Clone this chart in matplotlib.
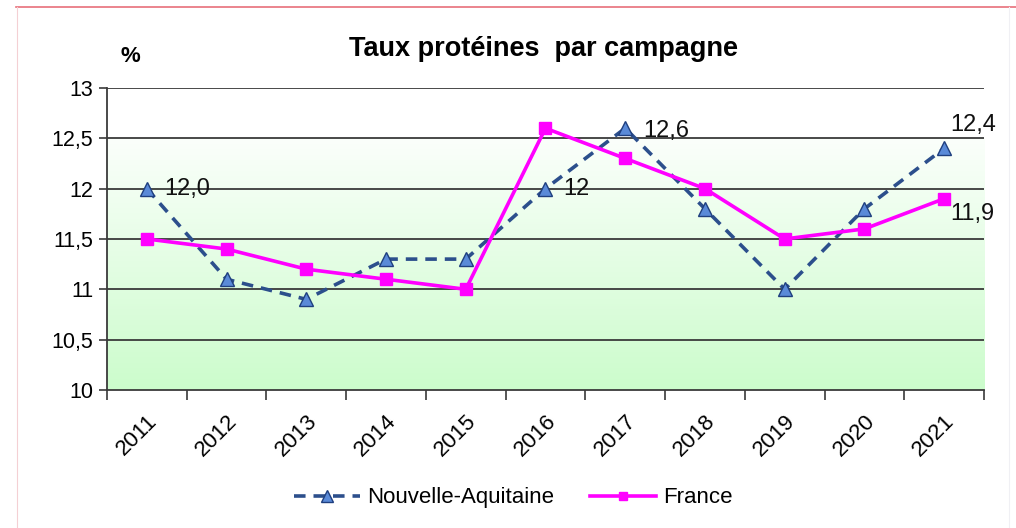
import numpy as np
import matplotlib
matplotlib.use("Agg")
import matplotlib.pyplot as plt
import matplotlib.transforms as mtransforms
from matplotlib.colors import LinearSegmentedColormap

plt.rcParams['font.family'] = ['Liberation Sans', 'DejaVu Sans']

years = ['2011', '2012', '2013', '2014', '2015', '2016', '2017', '2018', '2019', '2020', '2021']
nouvelle_aquitaine = [12.0, 11.1, 10.9, 11.3, 11.3, 12.0, 12.6, 11.8, 11.0, 11.8, 12.4]
france = [11.5, 11.4, 11.2, 11.1, 11.0, 12.6, 12.3, 12.0, 11.5, 11.6, 11.9]
y_ticks = [10, 10.5, 11, 11.5, 12, 12.5, 13]
y_tick_labels = ['10', '10,5', '11', '11,5', '12', '12,5', '13']
# (index, series, text, dx, dy)
point_labels = [(0, 'na', '12,0', 0.22, 0.0), (5, 'na', '12', 0.22, 0.0),
                (6, 'na', '12,6', 0.22, -0.03), (10, 'na', '12,4', 0.08, 0.23),
                (10, 'fr', '11,9', 0.08, -0.15)]


def main():
    fig = plt.figure(figsize=(10.16, 5.28), dpi=100)
    fig.patch.set_facecolor('white')

    # outer frame of the original picture
    fig.add_artist(plt.Line2D([0.016, 1.0], [0.987, 0.987], color='#e8707a', lw=1.2))
    fig.add_artist(plt.Line2D([0.017, 0.017], [0.0, 0.987], color='#f4d0d4', lw=0.8))
    fig.add_artist(plt.Line2D([0.993, 0.993], [0.0, 0.987], color='#f0f0f4', lw=0.8))

    ax = fig.add_axes([0.1053, 0.2614, 0.8632, 0.572])
    x = np.arange(len(years))
    ax.set_xlim(-0.5, len(years) - 0.5)
    ax.set_ylim(10, 13)

    # green gradient below 12.5
    grad = np.linspace(0, 1, 256).reshape(-1, 1)
    cmap = LinearSegmentedColormap.from_list('g', ['#ccfccc', '#fbfffb'])
    ax.imshow(grad, cmap=cmap, aspect='auto', origin='lower',
              extent=(-0.5, len(years) - 0.5, 10, 12.5), zorder=0)

    for yv in y_ticks[1:]:
        ax.axhline(yv, color='#3a3a3a', lw=1.3, zorder=1)

    ax.plot(x, nouvelle_aquitaine, color='#2c4f8c', lw=2.6, ls=(0, (3.2, 2.2)),
            marker='^', markersize=10, markerfacecolor='#5a8ad8',
            markeredgecolor='#1f3f7f', markeredgewidth=1.0, zorder=3,
            label='Nouvelle-Aquitaine')
    ax.plot(x, france, color='#ff00ff', lw=2.6, marker='s', markersize=8,
            markerfacecolor='#ff00ff', markeredgecolor='#ff00ff', zorder=4,
            label='France')

    for i, s, txt, dx, dy in point_labels:
        yv = nouvelle_aquitaine[i] if s == 'na' else france[i]
        ax.text(x[i] + dx, yv + dy, txt, fontsize=17, va='center', ha='left',
                color='#111111', zorder=5)

    ax.set_yticks(y_ticks)
    ax.set_yticklabels(y_tick_labels, fontsize=15.5)
    ax.set_xticks(x)
    ax.set_xticklabels(years, rotation=45, fontsize=16, ha='right',
                       rotation_mode='anchor')
    shift = mtransforms.ScaledTranslation(-5 / 100, 0, fig.dpi_scale_trans)
    for lab in ax.get_xticklabels():
        lab.set_transform(lab.get_transform() + shift)
    ax.set_xticks(np.arange(len(years) + 1) - 0.5, minor=True)
    ax.tick_params(axis='x', which='major', length=0, pad=15)
    ax.tick_params(axis='x', which='minor', length=7, width=1.2, color='#3a3a3a')
    ax.tick_params(axis='y', length=6, width=1.2, color='#3a3a3a', pad=4)

    for side in ['top', 'right']:
        ax.spines[side].set_visible(False)
    for side in ['left', 'bottom']:
        ax.spines[side].set_color('#3a3a3a')
        ax.spines[side].set_linewidth(1.3)

    fig.text(0.535, 0.908, 'Taux protéines  par campagne', ha='center',
             va='center', fontsize=19.5, fontweight='bold')
    fig.text(0.128, 0.893, '%', ha='center', va='center', fontsize=16,
             fontweight='bold')

    fig.legend(loc='center', bbox_to_anchor=(0.505, 0.057), ncol=2,
               frameon=False, fontsize=16, handlelength=3.0,
               columnspacing=1.6, handletextpad=0.3, markerscale=0.8)

    fig.savefig('out.png', dpi=100, facecolor=fig.get_facecolor())


if __name__ == "__main__":
    main()
